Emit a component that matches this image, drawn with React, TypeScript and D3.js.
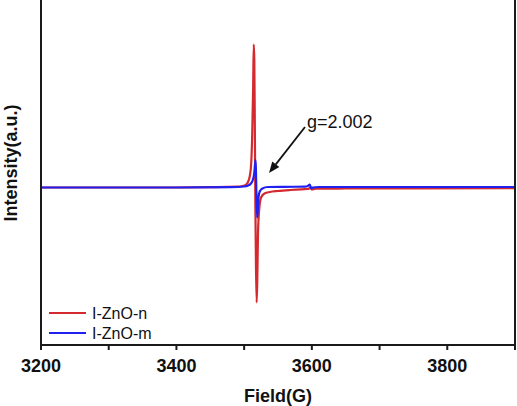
import React from "react";
import * as d3 from "d3";

const redField = [3200, 3300, 3400, 3450, 3490, 3498, 3503, 3506, 3508.5, 3510.5, 3512, 3513.3, 3514.2, 3515, 3515.8, 3516.6, 3517.5, 3518.5, 3519.5, 3520.5, 3522.5, 3525, 3530, 3538, 3550, 3568, 3585, 3595, 3597.5, 3600, 3605, 3650, 3750, 3900];
const redIntensity = [0, 0, 0, 0.3, 0.8, 1.5, 3, 6, 12, 25, 55, 100, 143, 128, 60, -20, -80, -115, -90, -45, -20, -10, -6, -4.5, -3.5, -2.5, -1.8, -1.5, 0, -2, -1.2, -1, -0.8, -0.7];

const blueField = [3200, 3400, 3480, 3500, 3506, 3510, 3513, 3515, 3516.2, 3516.9, 3517.5, 3518.2, 3519.2, 3520.2, 3521.2, 3523, 3527, 3535, 3560, 3590, 3594, 3597, 3599, 3601, 3610, 3700, 3900];
const blueIntensity = [0, 0, 0.3, 1, 2, 4, 8, 15, 24, 27.5, 15, -10, -30, -22, -10, -4, -1, 0.5, 0.7, 0.8, 1.5, 3, -1, 0, 0.5, 0.5, 0.5];

const majorTicks = [3200, 3400, 3600, 3800];
const minorTicks = [3300, 3500, 3700, 3900];
const seriesNames = ["I-ZnO-n", "I-ZnO-m"];
const seriesColors = ["#d42a2f", "#2020f0"];
const annotation = "g=2.002";

const W = 517, H = 406;
const left = 41, right = 515, top = 0, bottom = 345;
const FONT = "'Liberation Sans', Arial, sans-serif";

export default function App() {
  const x = d3.scaleLinear().domain([3200, 3900]).range([left, right]);
  const y = d3.scaleLinear().domain([-157.5, 187.5]).range([bottom, top]);
  const line = d3
    .line<[number, number]>()
    .x((d) => x(d[0]))
    .y((d) => y(d[1]))
    .curve(d3.curveMonotoneX);
  const red = redField.map((f, i) => [f, redIntensity[i]] as [number, number]);
  const blue = blueField.map((f, i) => [f, blueIntensity[i]] as [number, number]);
  const axisColor = "#1a1a1a";

  // arrow geometry
  const ax1 = 305, ay1 = 127, ax2 = 269, ay2 = 173;
  const ang = Math.atan2(ay2 - ay1, ax2 - ax1);
  const hl = 11, hw = 4.5;
  const bx = ax2 - hl * Math.cos(ang), by = ay2 - hl * Math.sin(ang);
  const px = -Math.sin(ang) * hw, py = Math.cos(ang) * hw;

  return (
    <svg
      width={W}
      height={H}
      style={{ position: "absolute", left: 0, top: 0, background: "#fff" }}
      fontFamily={FONT}
    >
      <rect x={0} y={0} width={W} height={H} fill="#fff" />
      <path d={line(red) || ""} fill="none" stroke={seriesColors[0]} strokeWidth={2.2} />
      <path d={line(blue) || ""} fill="none" stroke={seriesColors[1]} strokeWidth={2.2} />

      {/* axes */}
      <line x1={left} y1={top} x2={left} y2={bottom} stroke={axisColor} strokeWidth={2} />
      <line x1={right} y1={top} x2={right} y2={bottom} stroke={axisColor} strokeWidth={2} />
      <line x1={left - 1} y1={bottom} x2={right + 1} y2={bottom} stroke={axisColor} strokeWidth={2} />
      {majorTicks.concat(minorTicks).map((t) => (
        <line key={t} x1={x(t)} x2={x(t)} y1={bottom} y2={bottom + 5} stroke={axisColor} strokeWidth={2} />
      ))}
      {majorTicks.map((t) => (
        <text key={t} x={x(t)} y={372} textAnchor="middle" fontSize={18} fontWeight="bold" fill="#111">
          {t}
        </text>
      ))}
      <text x={(left + right) / 2} y={402} textAnchor="middle" fontSize={18} fontWeight="bold" fill="#111">
        Field(G)
      </text>
      <text
        transform={`translate(17,163) rotate(-90)`}
        textAnchor="middle"
        fontSize={18}
        fontWeight="bold"
        fill="#111"
      >
        Intensity(a.u.)
      </text>

      {/* annotation */}
      <text x={307} y={128} fontSize={18} fill="#111">
        {annotation}
      </text>
      <line x1={ax1} y1={ay1} x2={bx} y2={by} stroke="#111" strokeWidth={1.8} />
      <polygon points={`${ax2},${ay2} ${bx + px},${by + py} ${bx - px},${by - py}`} fill="#111" />

      {/* legend */}
      {seriesNames.map((n, i) => (
        <g key={n}>
          <line x1={49} x2={86} y1={313 + i * 20} y2={313 + i * 20} stroke={seriesColors[i]} strokeWidth={2} />
          <text x={92} y={319 + i * 20} fontSize={16} fill="#111">
            {n}
          </text>
        </g>
      ))}
    </svg>
  );
}
